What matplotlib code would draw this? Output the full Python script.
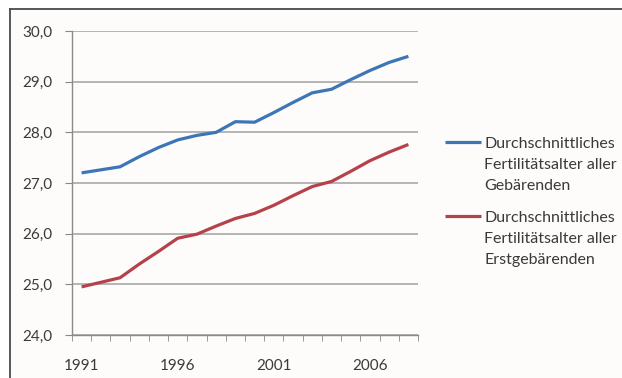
import numpy as np
import matplotlib.pyplot as plt
from matplotlib.lines import Line2D

years = list(range(1991, 2009))
alle = [27.2, 27.26, 27.32, 27.52, 27.7, 27.85, 27.94, 28.0, 28.21, 28.2,
        28.39, 28.59, 28.78, 28.85, 29.04, 29.22, 29.38, 29.5]
erst = [24.95, 25.04, 25.13, 25.4, 25.65, 25.91, 25.99, 26.15, 26.3, 26.4,
        26.56, 26.75, 26.93, 27.03, 27.23, 27.44, 27.61, 27.76]
labels = ["Durchschnittliches\nFertilitätsalter aller\nGebärenden",
          "Durchschnittliches\nFertilitätsalter aller\nErstgebärenden"]
colors = ['#3d76b6', '#b5424a']

plt.rcParams['font.family'] = ['Lato', 'DejaVu Sans']
txt = '#3a3a3a'

W, H = 622, 378
fig = plt.figure(figsize=(W/100, H/100), dpi=100, facecolor='#fdfcfa')
ax = fig.add_axes([72/W, 1-335/H, (418-72)/W, (335-31)/H])
ax.set_facecolor('#fdfcfa')

x = np.array(years)
for vals, c in zip([alle, erst], colors):
    ax.plot(x, vals, color=c, lw=2.3, solid_capstyle='butt')

ax.set_xlim(years[0]-0.5, years[-1]+0.5)
ax.set_ylim(24, 30)
yt = np.arange(24, 30.5, 1)
ax.set_yticks(yt)
ax.set_yticklabels([f"{v:.1f}".replace('.', ',') for v in yt], fontsize=11, color=txt)
ax.set_xticks([1991, 1996, 2001, 2006])
ax.set_xticklabels(['1991', '1996', '2001', '2006'], fontsize=11, color=txt)
ax.set_xticks(np.arange(years[0]-0.5, years[-1]+1), minor=True)
ax.tick_params(axis='x', which='major', length=0, pad=17)
ax.tick_params(axis='x', which='minor', length=4, color='#888888', direction='out')
ax.tick_params(axis='y', length=5, color='#888888', pad=9)
ax.grid(axis='y', color='#a8a8a8', lw=1.2)
ax.set_axisbelow(True)
for s in ['top', 'right']:
    ax.spines[s].set_visible(False)
for s in ['left', 'bottom']:
    ax.spines[s].set_color('#8a8a8a')
    ax.spines[s].set_linewidth(1.0)

# legend drawn by hand so the key sits beside the first text line
pitch = 21
for k, (lab, c) in enumerate(zip(labels, colors)):
    base = 148 + k*74
    fig.add_artist(Line2D([445/W, 481/W], [1-(base-6)/H]*2, color=c, lw=2.3,
                          solid_capstyle='butt'))
    for j, line in enumerate(lab.split('\n')):
        fig.text(484/W, 1-(base + j*pitch)/H, line, fontsize=11.5, color=txt,
                 ha='left', va='baseline')

# outer frame (top and left edges)
fig.add_artist(Line2D([10/W, 1], [1-9/H, 1-9/H], color='#4a4a4a', lw=1.3))
fig.add_artist(Line2D([10/W, 10/W], [0, 1-9/H], color='#4a4a4a', lw=1.3))
fig.patches.append(plt.Rectangle((0, 1-9/H), 1, 9/H, transform=fig.transFigure,
                                 facecolor='white', edgecolor='none', zorder=-1))
fig.patches.append(plt.Rectangle((0, 0), 10/W, 1, transform=fig.transFigure,
                                 facecolor='white', edgecolor='none', zorder=-1))

fig.savefig('out.png', dpi=100, facecolor=fig.get_facecolor())
